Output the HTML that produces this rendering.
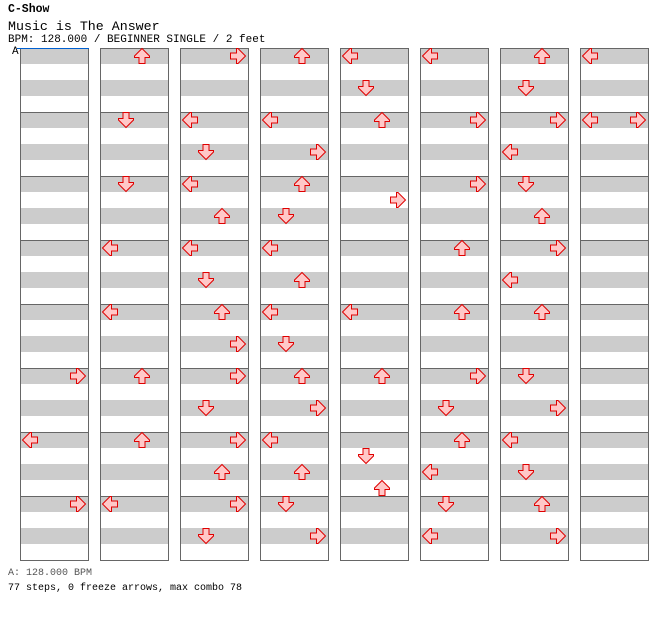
<!DOCTYPE html>
<html><head><meta charset="utf-8"><style>
body{margin:0;background:#fff;width:672px;height:620px;overflow:hidden;font-family:"Liberation Mono",monospace;}
.t{position:absolute;white-space:pre;color:#000;}
</style></head><body>
<div class="t" style="left:8px;top:3px;font-size:11.5px;font-weight:bold">C-Show</div>
<div class="t" style="left:8px;top:19px;font-size:13.3px">Music is The Answer</div>
<div class="t" style="left:8px;top:34px;font-size:11px">BPM: 128.000 / BEGINNER SINGLE / 2 feet</div>
<div class="t" style="left:12px;top:46px;font-size:11px">A</div>
<div class="t" style="left:8px;top:568px;font-size:10px;color:#555">A: 128.000 BPM</div>
<div class="t" style="left:8px;top:583px;font-size:10px">77 steps, 0 freeze arrows, max combo 78</div>
<svg id="chart" width="672" height="620" style="position:absolute;left:0;top:0">
<defs><polygon id="arr" points="8,0.5 15.5,8 15.5,9.5 11,9.5 11,15.5 5,15.5 5,9.5 0.5,9.5 0.5,8" fill="#ffc8c8" stroke="#e00000" stroke-width="1"/></defs>
</svg>
<script>
// notes: [column, beat within column (0-31), lane: 0=left 1=down 2=up 3=right]
const columns=[0,1,2,3,4,5,6,7];
const noteCols=[0,0,0, 1,1,1,1,1,1,1,1, 2,2,2,2,2,2,2,2,2,2,2,2,2,2,2, 3,3,3,3,3,3,3,3,3,3,3,3,3,3,3, 4,4,4,4,4,4,4,4, 5,5,5,5,5,5,5,5,5,5,5, 6,6,6,6,6,6,6,6,6,6,6,6,6,6,6, 7,7,7];
const noteBeats=[20,24,28, 0,4,8,12,16,20,24,28, 0,4,6,8,10,12,14,16,18,20,22,24,26,28,30, 0,4,6,8,10,12,14,16,18,20,22,24,26,28,30, 0,2,4,9,16,20,25,27, 0,4,8,12,16,20,22,24,26,28,30, 0,2,4,6,8,10,12,14,16,20,22,24,26,28,30, 0,4,4];
const noteLanes=[3,0,3, 2,1,1,0,0,2,2,0, 3,0,1,0,2,0,1,2,3,3,1,3,2,3,1, 2,0,3,2,1,0,2,0,1,2,3,0,2,1,3, 0,1,2,3,0,2,1,2, 0,3,3,2,2,3,1,2,0,1,0, 2,1,3,0,1,2,3,0,2,1,3,0,1,2,3, 0,0,3];
const measuresPerCol=8, beatsPerMeasure=4;
const NS="http://www.w3.org/2000/svg";
const svg=document.getElementById('chart');
const colX=c=>20+c*80, beatY=b=>48+b*16, laneX=l=>2+l*16;
const rot=[-90,180,0,90];
columns.forEach(c=>{
  const g=document.createElementNS(NS,'g');
  
  
  for(let r=0;r<measuresPerCol*beatsPerMeasure;r+=2){
    const s=document.createElementNS(NS,'rect');
    s.setAttribute('x',colX(c));s.setAttribute('y',beatY(r));s.setAttribute('width',68);s.setAttribute('height',16);s.setAttribute('fill','#cccccc');
    
    
    g.appendChild(s);
  }
  for(let m=1;m<measuresPerCol;m++){
    const l=document.createElementNS(NS,'line');
    const y=beatY(m*beatsPerMeasure)+0.5;
    l.setAttribute('x1',colX(c));l.setAttribute('x2',colX(c)+68);l.setAttribute('y1',y);l.setAttribute('y2',y);l.setAttribute('stroke','#666');
    
    
    g.appendChild(l);
  }
  const b=document.createElementNS(NS,'rect');
  b.setAttribute('x',colX(c)+0.5);b.setAttribute('y',48.5);b.setAttribute('width',68);b.setAttribute('height',512);b.setAttribute('fill','none');b.setAttribute('stroke','#666');
  
  
  g.appendChild(b);
  svg.appendChild(g);
});
const bl=document.createElementNS(NS,'line');
bl.setAttribute('x1',17);bl.setAttribute('x2',89);bl.setAttribute('y1',48.5);bl.setAttribute('y2',48.5);bl.setAttribute('stroke','#0060d0');


svg.appendChild(bl);
noteCols.forEach((c,i)=>{
  const u=document.createElementNS(NS,'use');
  u.setAttribute('href','#arr');
  const x=colX(c)+laneX(noteLanes[i]), y=beatY(noteBeats[i]);
  u.setAttribute('transform',`translate(${x},${y}) rotate(${rot[noteLanes[i]]},8,8)`);
  
  
  svg.appendChild(u);
});
</script>
</body></html>
